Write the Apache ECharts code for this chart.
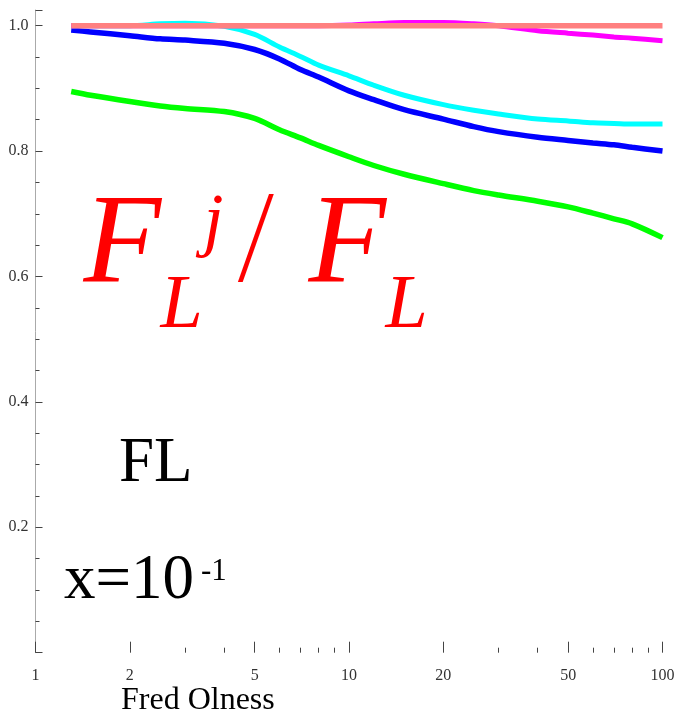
<!DOCTYPE html>
<html>
<head>
<meta charset="utf-8">
<script src="https://cdn.jsdelivr.net/npm/echarts@6/dist/echarts.min.js"></script>
<style>
  html, body { margin: 0; padding: 0; background: #ffffff; }
  #chart { width: 698px; height: 718px; }
</style>
</head>
<body>
<div id="chart"></div>
<script>
// Q values (GeV) at which each ratio curve is sampled
const qValues = [1.3, 1.5, 2, 2.5, 3, 4, 5, 6, 7, 8, 10, 12, 15, 20, 25, 30, 40, 50, 60, 70, 80, 100];

// F_L^j / F_L ratios at x = 10^-1
const ratioGreen   = [0.895, 0.889, 0.879, 0.872, 0.868, 0.863, 0.852, 0.834, 0.821, 0.809, 0.791, 0.777, 0.763, 0.748, 0.737, 0.730, 0.720, 0.711, 0.701, 0.692, 0.684, 0.662];
const ratioBlue    = [0.993, 0.990, 0.984, 0.979, 0.977, 0.972, 0.962, 0.947, 0.930, 0.918, 0.896, 0.882, 0.866, 0.851, 0.839, 0.831, 0.822, 0.817, 0.813, 0.810, 0.806, 0.800];
const ratioCyan    = [1.000, 1.000, 1.000, 1.003, 1.004, 0.999, 0.986, 0.966, 0.951, 0.937, 0.920, 0.905, 0.889, 0.874, 0.865, 0.859, 0.851, 0.848, 0.845, 0.844, 0.843, 0.843];
const ratioMagenta = [1.000, 1.000, 1.000, 1.000, 1.000, 1.000, 1.000, 1.000, 1.000, 1.000, 1.001, 1.003, 1.005, 1.005, 1.003, 1.000, 0.992, 0.988, 0.985, 0.982, 0.980, 0.976];
const ratioTotal   = [1.000, 1.000, 1.000, 1.000, 1.000, 1.000, 1.000, 1.000, 1.000, 1.000, 1.000, 1.000, 1.000, 1.000, 1.000, 1.000, 1.000, 1.000, 1.000, 1.000, 1.000, 1.000];

// Axis tick positions
const xMajorTicks = [1, 2, 5, 10, 20, 50, 100];
const xMinorTicks = [3, 4, 6, 7, 8, 9, 30, 40, 60, 70, 80, 90];

const pairs = vals => qValues.map((q, i) => [q, vals[i]]);

const serif = '"Liberation Serif", "DejaVu Serif", serif';

function curve(name, color, vals, width) {
  return {
    name: name,
    type: 'line',
    data: pairs(vals),
    smooth: 0.3,
    showSymbol: false,
    lineStyle: { color: color, width: width, cap: 'butt' },
    emphasis: { disabled: true },
    animation: false
  };
}

// text placed by its vertical middle (baseline sits ~0.3375em below)
function label(text, x, baseline, size, color, italic) {
  return {
    type: 'text', silent: true, z: 10,
    style: {
      x: x, y: baseline - 0.3375 * size, text: text, fill: color,
      font: (italic ? 'italic ' : '') + size + 'px ' + serif,
      verticalAlign: 'middle', align: 'left'
    }
  };
}

const chart = echarts.init(document.getElementById('chart'), null, { renderer: 'canvas' });

chart.setOption({
  backgroundColor: '#ffffff',
  animation: false,
  grid: { left: 35.5, right: 35.5, top: 10, bottom: 65.3, containLabel: false },
  xAxis: [
    {
      type: 'log', logBase: 10, min: 1, max: 100, position: 'bottom',
      axisLine: { show: false },
      axisTick: { show: true, inside: true, length: 11, customValues: xMajorTicks,
                  lineStyle: { color: '#444', width: 1 } },
      axisLabel: { show: true, customValues: xMajorTicks, margin: 15,
                   fontFamily: serif, fontSize: 16, color: '#333',
                   formatter: v => String(Math.round(v)) },
      splitLine: { show: false },
      minorTick: { show: false }
    },
    {
      type: 'log', logBase: 10, min: 1, max: 100, position: 'bottom',
      axisLine: { show: false },
      axisTick: { show: true, inside: true, length: 5, customValues: xMinorTicks,
                  lineStyle: { color: '#444', width: 1 } },
      axisLabel: { show: false },
      splitLine: { show: false }
    }
  ],
  yAxis: {
    type: 'value', min: 0, max: 1.025, interval: 0.2,
    axisLine: { show: true, lineStyle: { color: '#aaaaaa', width: 1 } },
    axisTick: { show: true, inside: true, length: 7, lineStyle: { color: '#444', width: 1 } },
    minorTick: { show: true, splitNumber: 4, length: 4, lineStyle: { color: '#444', width: 1 } },
    axisLabel: { show: true, showMinLabel: false, showMaxLabel: false, margin: 7,
                 fontFamily: serif, fontSize: 16, color: '#333',
                 formatter: v => v.toFixed(1) },
    splitLine: { show: false }
  },
  series: [
    curve('green', '#00ff00', ratioGreen, 5.5),
    curve('blue', '#0000ff', ratioBlue, 5.5),
    curve('cyan', '#00ffff', ratioCyan, 5),
    curve('magenta', '#ff00ff', ratioMagenta, 5),
    curve('total', '#ff8080', ratioTotal, 5.5)
  ],
  graphic: [
    // F_L^j / F_L
    label('F', 83.6, 290, 127, '#ff0000', true),
    label('j', 203.6, 248, 72, '#ff0000', true),
    label('L', 160.6, 333, 76, '#ff0000', true),
    {
      type: 'text', silent: true, z: 10, x: 242, y: 0, originX: 0, scaleX: 0.68,
      style: { x: 0, y: 290.6 - 0.3375 * 132, text: '/', fill: '#ff0000',
               font: 'italic 132px ' + serif, verticalAlign: 'middle', align: 'left' }
    },
    label('F', 308.6, 290, 127, '#ff0000', true),
    label('L', 385.6, 333, 76, '#ff0000', true),
    // structure-function label and kinematic point
    label('FL', 119, 486, 63, '#000000', false),
    label('x=10', 64, 603, 63, '#000000', false),
    label('-1', 201, 582, 31, '#000000', false),
    // author credit
    label('Fred Olness', 121, 711, 32, '#000000', false)
  ]
});
</script>
</body>
</html>
